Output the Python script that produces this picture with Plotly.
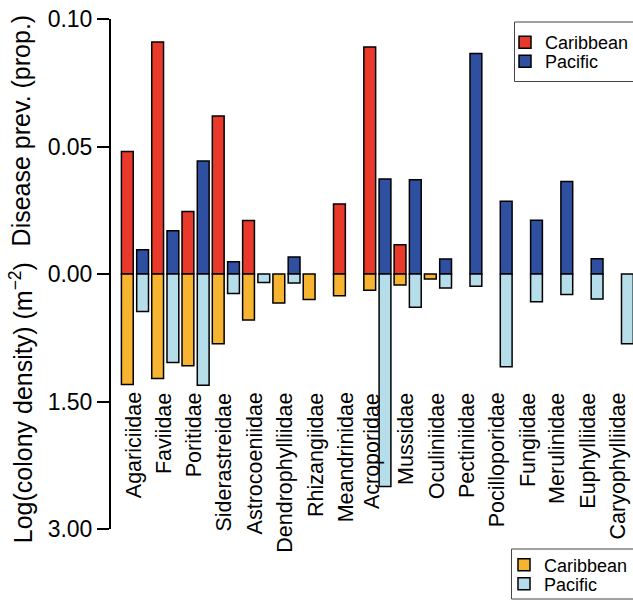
import plotly.graph_objects as go

families = ["Agariciidae", "Faviidae", "Poritidae", "Siderastreidae", "Astrocoeniidae",
            "Dendrophylliidae", "Rhizangiidae", "Meandrinidae", "Acroporidae", "Mussidae",
            "Oculiniidae", "Pectiniidae", "Pocilloporidae", "Fungiidae", "Merulinidae",
            "Euphylliidae", "Caryophylliidae"]

# Disease prevalence (proportion)
carib_disease = [0.048, 0.091, 0.0245, 0.062, 0.021, None, None, 0.0275, 0.089, 0.0115,
                 None, None, None, None, None, None, None]
pac_disease = [0.0095, 0.017, 0.0443, 0.0048, None, 0.0067, None, None, 0.0373, 0.037,
               0.0059, 0.0865, 0.0285, 0.0211, 0.0363, 0.006, None]

# Log colony density (m^-2)
carib_density = [1.30, 1.23, 1.08, 0.82, 0.54, 0.34, 0.30, 0.255, 0.19, 0.13,
                 0.06, None, None, None, None, None, None]
pac_density = [0.44, 1.04, 1.31, 0.23, 0.10, 0.105, None, None, 2.50, 0.39,
               0.165, 0.145, 1.09, 0.325, 0.24, 0.295, 0.82]

tick_vals = [1, 0.5, 0, -0.5, -1]
tick_text = ["0.10", "0.05", "0.00", "1.50", "3.00"]

DIS_MAX = 0.10
DEN_MAX = 3.0

RED = "#E8392A"
BLUE = "#2F50A0"
ORANGE = "#F6B430"
LBLUE = "#B5DEEA"

x = list(range(len(families)))
up = lambda arr: [None if v is None else v / DIS_MAX for v in arr]
down = lambda arr: [None if v is None else -v / DEN_MAX for v in arr]

W = 0.39
OFF_C = -0.448
OFF_P = 0.056
line = dict(color="black", width=1.5)

fig = go.Figure()
fig.add_trace(go.Bar(x=x, y=up(carib_disease), name="Caribbean", marker=dict(color=RED, line=line),
                     width=W, offset=OFF_C, legend="legend"))
fig.add_trace(go.Bar(x=x, y=up(pac_disease), name="Pacific", marker=dict(color=BLUE, line=line),
                     width=W, offset=OFF_P, legend="legend2"))
fig.add_trace(go.Bar(x=x, y=down(carib_density), name="Caribbean", marker=dict(color=ORANGE, line=line),
                     width=W, offset=OFF_C, legend="legend3"))
fig.add_trace(go.Bar(x=x, y=down(pac_density), name="Pacific", marker=dict(color=LBLUE, line=line),
                     width=W, offset=OFF_P, legend="legend4"))

FONT = "Liberation Sans, Arial, Helvetica, sans-serif"

annotations = []
for i, fam in enumerate(families):
    annotations.append(dict(x=i, y=-0.4616, xref="x", yref="y", text=fam, showarrow=False,
                            textangle=-90, xanchor="center", yanchor="top", borderpad=0,
                            xshift=-6 if fam == "Acroporidae" else -1.5,
                            font=dict(family=FONT, size=21.5, color="black")))

annotations.append(dict(x=-0.172, y=0.782, xref="paper", yref="paper", text="Disease prev. (prop.)",
                        showarrow=False, textangle=-90, xanchor="center", yanchor="middle",
                        font=dict(family=FONT, size=25, color="black")))
annotations.append(dict(x=-0.172, y=0.247, xref="paper", yref="paper",
                        text="Log(colony density) (m<sup>\u22122</sup>)",
                        showarrow=False, textangle=-90, xanchor="center", yanchor="middle",
                        font=dict(family=FONT, size=25, color="black")))

def px_x(p):
    return (p - 111) / 522.0

def px_y(p):
    return (529 - p) / 510.0

shapes = [
    dict(type="rect", xref="paper", yref="paper", x0=px_x(514.5), x1=px_x(640), y0=px_y(22), y1=px_y(81.5),
         line=dict(color="#444", width=1)),
    dict(type="rect", xref="paper", yref="paper", x0=px_x(511.5), x1=px_x(640), y0=px_y(549), y1=px_y(599),
         line=dict(color="#444", width=1)),
]

def leg(px_left, py_center):
    return dict(x=px_x(px_left), y=px_y(py_center), xanchor="left", yanchor="middle",
                bgcolor="rgba(0,0,0,0)", borderwidth=0,
                font=dict(family=FONT, size=18, color="black"), itemclick=False)

fig.update_layout(
    width=633, height=600,
    margin=dict(l=111, r=0, t=19, b=71, autoexpand=False),
    paper_bgcolor="white", plot_bgcolor="white",
    barmode="overlay",
    showlegend=True,
    legend=leg(505, 42.5),
    legend2=leg(505, 61.5),
    legend3=leg(504, 565),
    legend4=leg(504, 584),
    xaxis=dict(range=[-0.792, 16.436], showticklabels=False, ticks="", showline=False,
               showgrid=False, zeroline=False, fixedrange=True),
    yaxis=dict(range=[-1, 1], tickvals=tick_vals, ticktext=tick_text, ticks="outside", ticklen=12,
               tickwidth=2, tickcolor="black", showline=True, linewidth=2, linecolor="black",
               showgrid=False, zeroline=False,
               tickfont=dict(family=FONT, size=23, color="black")),
    annotations=annotations,
    shapes=shapes,
    font=dict(family=FONT, color="black"),
)

fig.write_html("out.html", config={"displayModeBar": False},
               post_script="document.body.style.margin='0';document.body.style.overflow='hidden';")
